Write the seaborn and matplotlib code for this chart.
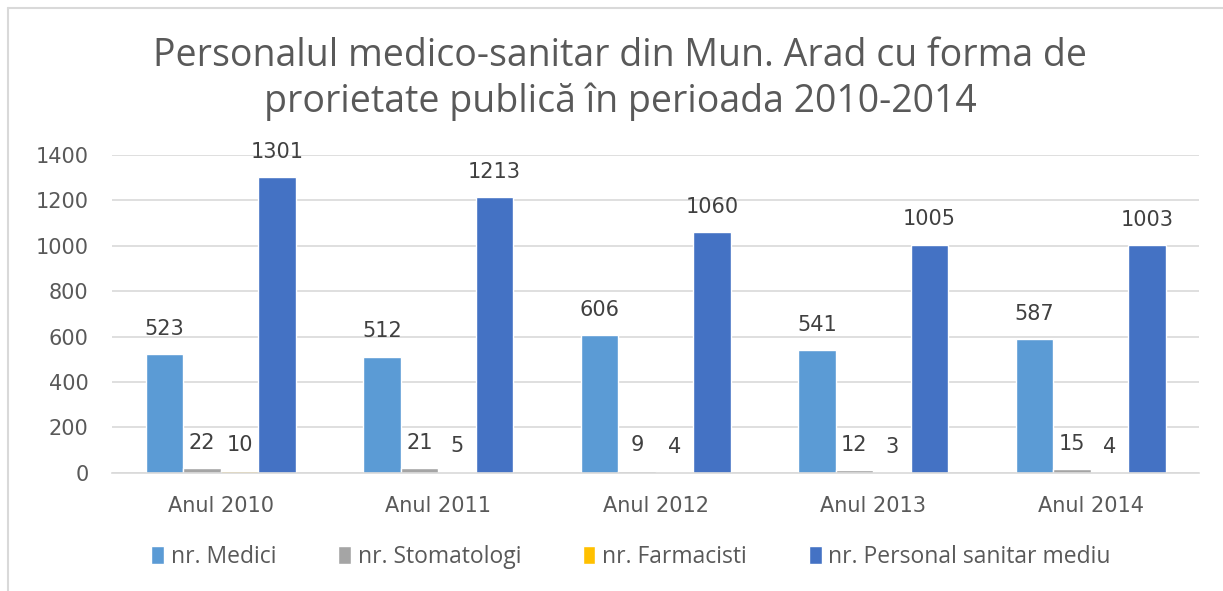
import pandas as pd
import seaborn as sns
import matplotlib.pyplot as plt
from matplotlib.lines import Line2D
from matplotlib.patches import Patch

# data
years = ['Anul 2010', 'Anul 2011', 'Anul 2012', 'Anul 2013', 'Anul 2014']
series = ['nr. Medici', 'nr. Stomatologi', 'nr. Farmacisti', 'nr. Personal sanitar mediu']
medici = [523, 512, 606, 541, 587]
stomatologi = [22, 21, 9, 12, 15]
farmacisti = [10, 5, 4, 3, 4]
personal = [1301, 1213, 1060, 1005, 1003]
colors = ['#5B9BD5', '#A5A5A5', '#FFC000', '#4472C4']

df = pd.DataFrame({
    'an': years * 4,
    'serie': [s for s in series for _ in years],
    'valoare': medici + stomatologi + farmacisti + personal,
})

sns.set_style('white')
plt.rcParams['font.family'] = ['DejaVu Sans']

fig = plt.figure(figsize=(12.23, 5.91), dpi=100)
ax = fig.add_axes([0.0916, 0.2, 0.889, 0.538])

sns.barplot(data=df, x='an', y='valoare', hue='serie', hue_order=series,
            palette=colors, width=0.69, saturation=1, ax=ax, legend=False)

for cont in ax.containers:
    ax.bar_label(cont, padding=11, fontsize=15, color='#404040')

ax.set_ylim(0, 1400)
ax.set_yticks(range(0, 1401, 200))
ax.yaxis.grid(True, color='#D9D9D9', linewidth=1.2)
ax.set_axisbelow(True)
ax.set_xlabel('')
ax.set_ylabel('')
ax.tick_params(axis='both', length=0, labelsize=15, colors='#595959')
ax.tick_params(axis='x', pad=17)
ax.tick_params(axis='y', pad=17)
for s in ['top', 'right', 'left']:
    ax.spines[s].set_visible(False)
ax.spines['bottom'].set_color('#D9D9D9')
ax.spines['bottom'].set_linewidth(1.2)

fig.suptitle('Personalul medico-sanitar din Mun. Arad cu forma de\nprorietate publică în perioada 2010-2014',
             x=0.507, y=0.938, fontsize=27, color='#595959', linespacing=1.25,
             family=['Open Sans', 'DejaVu Sans'])

handles = [Patch(facecolor=c, label=s) for c, s in zip(colors, series)]
fig.legend(handles=handles, loc='center', bbox_to_anchor=(0.516, 0.058), ncol=4,
           frameon=False, prop={'family': 'Open Sans', 'size': 16.5}, labelcolor='#595959',
           handlelength=0.55, handleheight=0.8, handletextpad=0.3, columnspacing=2.7)

# chart frame
fig.add_artist(Line2D([8 / 1223, 8 / 1223], [0, 1 - 8 / 591], color='#D9D9D9', lw=1.5))
fig.add_artist(Line2D([8 / 1223, 1], [1 - 8 / 591, 1 - 8 / 591], color='#D9D9D9', lw=1.5))

fig.savefig('out.png', dpi=100)
